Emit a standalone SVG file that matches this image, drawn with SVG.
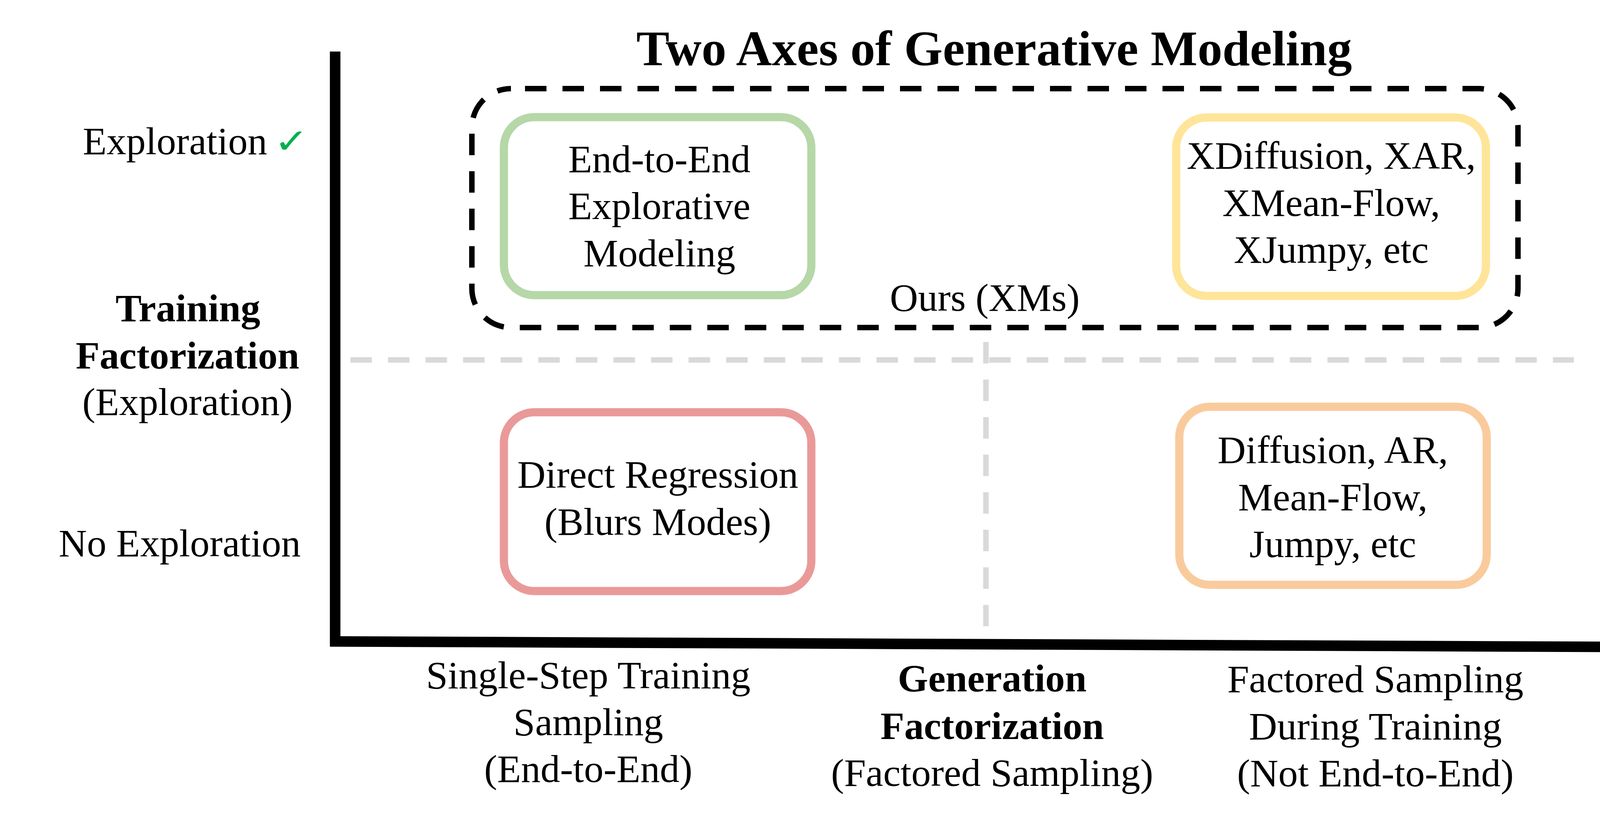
<svg xmlns="http://www.w3.org/2000/svg" width="4134" height="2103" viewBox="0 0 4134 2103">
  <style>
    text { font-family: "Liberation Serif", "Times New Roman", serif; font-size: 100px; fill: #000; }
    .c { text-anchor: middle; }
    .b { font-weight: bold; }
    .title { font-size: 127px; font-weight: bold; text-anchor: middle; }
    .box { fill: #ffffff; stroke-width: 21; }
    .grid { stroke: #d9d9d9; stroke-width: 14; stroke-dasharray: 55 41.2; fill: none; }
    .axis { stroke: #000; stroke-width: 27; fill: none; }
    .check { font-family: "DejaVu Sans", sans-serif; font-size: 88px; fill: #00b050; }
  </style>
  <rect width="4134" height="2103" fill="#ffffff"/>

  <g id="title">
    <text class="title" x="2545" y="167">Two Axes of Generative Modeling</text>
  </g>

  <g id="axes">
    <line class="grid" x1="897" y1="922" x2="4029" y2="922"/>
    <line class="grid" x1="2524" y1="876" x2="2524" y2="1604"/>
    <line class="axis" x1="858" y1="132" x2="858" y2="1656"/>
    <line class="axis" x1="845" y1="1643" x2="4118" y2="1657"/>
  </g>

  <g id="ours-group">
    <rect x="1208" y="227" width="2678" height="612" rx="100" ry="100" fill="none" stroke="#000" stroke-width="14" stroke-dasharray="55 41" stroke-dashoffset="60"/>
    <text class="c" x="2521" y="796">Ours (XMs)</text>
  </g>

  <g id="node-end-to-end">
    <rect class="box" x="1290" y="300" width="787" height="456" rx="78" ry="78" stroke="#b6d7a8"/>
    <text class="c" x="1688" y="441">End-to-End</text>
    <text class="c" x="1688" y="561">Explorative</text>
    <text class="c" x="1688" y="682">Modeling</text>
  </g>

  <g id="node-xdiffusion">
    <rect class="box" x="3011" y="301" width="793" height="457" rx="78" ry="78" stroke="#ffe599"/>
    <text class="c" x="3408" y="432">XDiffusion, XAR,</text>
    <text class="c" x="3408" y="553">XMean-Flow,</text>
    <text class="c" x="3408" y="673">XJumpy, etc</text>
  </g>

  <g id="node-direct-regression">
    <rect class="box" x="1290" y="1056" width="787" height="458" rx="78" ry="78" stroke="#ea9999"/>
    <text class="c" x="1684" y="1249">Direct Regression</text>
    <text class="c" x="1684" y="1370">(Blurs Modes)</text>
  </g>

  <g id="node-diffusion">
    <rect class="box" x="3019" y="1042" width="787" height="456" rx="78" ry="78" stroke="#f9cb9c"/>
    <text class="c" x="3412" y="1186">Diffusion, AR,</text>
    <text class="c" x="3412" y="1307">Mean-Flow,</text>
    <text class="c" x="3412" y="1427">Jumpy, etc</text>
  </g>

  <g id="y-labels">
    <text x="212" y="395">Exploration</text>
    <text class="check" transform="translate(728,392) scale(1.2,1)" x="-22" y="0">✓</text>
    <text class="c b" x="481" y="823">Training</text>
    <text class="c b" x="480" y="944">Factorization</text>
    <text class="c" x="480" y="1063">(Exploration)</text>
    <text class="c" x="460" y="1425">No Exploration</text>
  </g>

  <g id="x-labels">
    <text class="c" x="1506" y="1763">Single-Step Training</text>
    <text class="c" x="1506" y="1883">Sampling</text>
    <text class="c" x="1506" y="2003">(End-to-End)</text>
    <text class="c b" x="2540" y="1771">Generation</text>
    <text class="c b" x="2540" y="1893">Factorization</text>
    <text class="c" x="2540" y="2013">(Factored Sampling)</text>
    <text class="c" x="3521" y="1773">Factored Sampling</text>
    <text class="c" x="3521" y="1894">During Training</text>
    <text class="c" x="3521" y="2014">(Not End-to-End)</text>
  </g>
</svg>
